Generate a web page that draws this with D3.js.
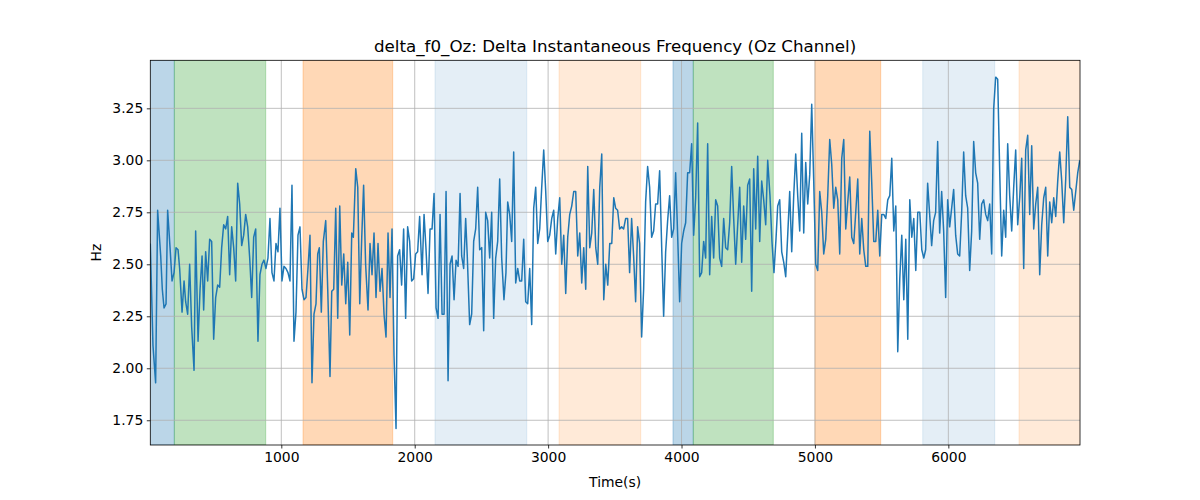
<!DOCTYPE html>
<html><head><meta charset="utf-8">
<script src="https://cdn.jsdelivr.net/npm/d3@7"></script>
<style>body{margin:0;background:#fff}svg{display:block}text{font-family:"DejaVu Sans",sans-serif}</style>
</head><body><svg id="c" width="1200" height="500"></svg>
<script>
const times = [18,38,58,73,96,108,121,136,148,166,181,196,211,226,238,256,271,283,298,313,328,346,358,376,391,406,418,433,448,463,478,493,508,523,538,553,568,583,598,613,628,643,658,673,688,703,718,733,748,763,778,793,808,825,840,855,870,885,900,915,930,945,960,975,990,1005,1020,1035,1050,1065,1080,1095,1110,1125,1140,1155,1170,
1185,1200,1215,1230,1245,1260,1273,1285,1300,1315,1333,1348,1365,1378,1393,1408,1423,1438,1453,1468,1483,1498,1513,1528,1540,1558,1573,1588,1603,1617,1632,1650,1665,1680,1695,1710,1725,1740,1755,1770,1785,1800,1815,1830,1845,1860,1872,1887,1902,1917,1932,1947,1962,1977,1992,2007,2022,2037,2055,2070,2085,2100,2115,2130,2145,2160,2175,2190,2205,2220,2235,2250,2265,2280,2295,2310,2325,2340,
2352,2367,2382,2394,2412,2427,2442,2457,2472,2487,2502,2517,2532,2547,2562,2577,2592,2607,2622,2637,2652,2669,2684,2697,2712,2727,2742,2757,2772,2787,2802,2817,2832,2847,2862,2877,2892,2907,2922,2937,2952,2967,2982,2997,3012,3027,3042,3057,3072,3087,3102,3117,3132,3147,3162,3177,3192,3207,3222,3237,3252,3267,3282,3297,3312,3327,3342,3357,3372,3387,3402,3417,3432,3447,3462,3477,3492,
3506,3521,3536,3551,3566,3581,3596,3611,3626,3641,3656,3671,3686,3701,3716,3731,3746,3761,3776,3791,3806,3821,3836,3851,3866,3881,3896,3911,3926,3941,3956,3971,3986,4001,4016,4031,4046,4061,4076,4091,4106,4121,4136,4151,4166,4181,4196,4211,4226,4241,4256,4271,4286,4301,4316,4331,4346,4361,4376,4391,4406,4421,4436,4451,4466,4481,4496,4511,4526,4541,4556,4571,4586,4601,4616,4631,4646,4663,
4678,4693,4708,4721,4736,4751,4766,4781,4796,4811,4826,4841,4856,4871,4886,4901,4916,4931,4946,4961,4976,4991,5006,5021,5036,5051,5066,5081,5096,5111,5126,5141,5156,5171,5186,5201,5216,5231,5246,5261,5276,5291,5306,5321,5336,5351,5366,5381,5396,5411,5426,5441,5456,5471,5486,5501,5516,5531,5546,5561,5576,5591,5606,5621,5636,5651,5666,5681,5696,5711,5726,5741,5756,5771,5786,5801,5816,
5830,5845,5860,5875,5890,5905,5920,5935,5950,5965,5980,5995,6010,6025,6040,6055,6070,6085,6100,6115,6130,6145,6160,6175,6190,6205,6220,6235,6250,6265,6280,6295,6310,6325,6340,6355,6370,6385,6400,6415,6430,6445,6460,6475,6490,6505,6520,6535,6550,6565,6580,6595,6610,6625,6640,6655,6670,6685,6700,6715,6730,6745,6760,6775,6790,6805,6820,6835,6850,6865,6880,6895,6910,6925,6940,6955,6970,6985];
const values = [2.60,2.11,1.93,2.76,2.54,2.38,2.29,2.31,2.76,2.58,2.42,2.46,2.58,2.57,2.48,2.27,2.42,2.32,2.26,2.50,2.20,1.99,2.66,2.13,2.38,2.54,2.28,2.56,2.42,2.62,2.61,2.14,2.34,2.40,2.39,2.58,2.69,2.67,2.73,2.45,2.68,2.58,2.42,2.89,2.79,2.59,2.64,2.74,2.68,2.53,2.34,2.63,2.67,2.13,2.45,2.50,2.52,2.48,2.53,2.72,2.46,2.42,2.60,2.56,2.77,2.42,2.49,2.48,2.46,2.42,2.88,2.13,2.27,2.64,2.68,2.38,2.33,
2.34,2.48,2.64,1.93,2.26,2.31,2.55,2.58,2.27,2.61,2.71,2.38,1.96,2.37,2.38,2.77,2.24,2.78,2.40,2.55,2.31,2.51,2.16,2.65,2.63,2.96,2.87,2.31,2.63,2.88,2.50,2.28,2.60,2.45,2.65,2.34,2.60,2.37,2.48,2.26,2.15,2.65,2.34,2.67,2.06,1.71,2.54,2.57,2.40,2.67,2.24,2.68,2.61,2.42,2.43,2.55,2.56,2.73,2.45,2.74,2.57,2.36,2.67,2.67,2.84,2.29,2.24,2.74,2.26,2.26,2.85,1.94,2.50,2.54,2.33,2.52,2.49,2.84,
2.54,2.48,2.72,2.54,2.21,2.26,2.61,2.67,2.87,2.57,2.58,2.18,2.75,2.71,2.53,2.75,2.24,2.53,2.61,2.91,2.53,2.33,2.46,2.80,2.74,2.61,3.04,2.41,2.48,2.42,2.42,2.62,2.32,2.31,2.48,2.21,2.77,2.87,2.60,2.67,2.87,3.05,2.85,2.61,2.64,2.72,2.76,2.55,2.72,2.82,2.50,2.64,2.36,2.63,2.74,2.78,2.85,2.85,2.54,2.65,2.41,2.58,2.38,2.97,2.58,2.65,2.86,2.58,2.50,2.87,3.03,2.33,2.50,2.40,2.60,2.60,2.82,
2.77,2.76,2.67,2.68,2.67,2.72,2.72,2.46,2.72,2.54,2.32,2.68,2.60,2.15,2.38,2.80,2.97,2.87,2.63,2.66,2.79,2.79,2.95,2.59,2.25,2.56,2.71,2.83,2.63,2.67,2.94,2.64,2.32,2.60,2.66,2.70,2.94,2.94,3.08,2.64,2.82,3.18,2.44,2.46,2.61,2.53,3.08,2.45,2.73,2.53,2.81,2.78,2.53,2.49,2.72,2.58,2.57,2.70,2.97,2.72,2.50,2.69,2.87,2.51,2.78,2.62,2.88,2.91,2.37,2.96,2.67,3.02,2.61,2.90,2.81,2.69,3.00,2.83,
2.61,2.46,2.62,2.78,2.81,2.56,2.51,2.44,2.64,2.85,2.56,2.83,3.03,2.83,2.66,3.13,2.65,2.99,2.79,2.93,3.27,2.90,2.50,2.47,2.85,2.75,2.55,2.62,2.83,3.10,2.98,2.77,2.87,2.81,2.55,3.01,3.10,2.67,2.80,2.92,2.63,2.60,2.75,2.91,2.55,2.72,2.57,2.49,2.49,3.14,2.89,2.61,2.61,2.76,2.54,2.74,2.74,2.72,2.81,2.83,3.01,2.66,2.78,2.08,2.43,2.64,2.33,2.62,2.14,2.81,2.63,2.72,2.47,2.75,2.75,2.57,2.53,
2.57,2.89,2.74,2.59,2.71,2.75,3.09,2.65,2.85,2.66,2.34,2.81,2.68,2.77,2.86,2.64,2.55,2.54,2.75,3.04,2.83,2.77,2.47,2.66,3.09,2.94,2.89,2.62,2.79,2.81,2.74,2.71,2.79,2.55,3.25,3.40,3.39,2.95,2.54,2.76,2.63,3.08,2.83,2.66,2.87,3.05,2.69,2.82,3.01,2.48,3.05,3.12,2.74,3.07,2.67,2.79,2.87,2.45,2.69,2.82,2.87,2.54,2.80,2.70,2.82,2.73,2.90,3.04,2.90,2.70,2.91,3.21,2.87,2.86,2.76,2.85,2.94,3.00];

const spanStarts = [0,198,1163,2152,3082,3936,4088,5001,5808,6530];
const spanEnds   = [198,883,1835,2840,3694,4088,4688,5493,6348,7100];
const spanColors = ["#1f77b4","#2ca02c","#ff7f0e","#1f77b4","#ff7f0e","#1f77b4","#2ca02c","#ff7f0e","#1f77b4","#ff7f0e"];
const spanAlphas = [0.3,0.3,0.3,0.12,0.16,0.3,0.3,0.3,0.12,0.16];
const xTicks = [1000,2000,3000,4000,5000,6000];
const yTicks = [1.75,2.00,2.25,2.50,2.75,3.00,3.25];
const titleText = "delta_f0_Oz: Delta Instantaneous Frequency (Oz Channel)";

const L=150.3,R=1080,T=60.3,B=445;
const svg=d3.select("#c");
const x=d3.scaleLinear().domain([18,6987]).range([L,R]);
const y=d3.scaleLinear().domain([1.631,3.481]).range([B,T]);
svg.append("defs").append("clipPath").attr("id","clip").append("rect").attr("x",L).attr("y",T).attr("width",R-L).attr("height",B-T);
const plot=svg.append("g").attr("clip-path","url(#clip)");
plot.selectAll("rect.span").data(spanStarts).enter().append("rect")
  .attr("x",(d)=>x(d)).attr("width",(d,i)=>x(spanEnds[i])-x(d))
  .attr("y",T).attr("height",B-T)
  .attr("fill",(d,i)=>spanColors[i]).attr("fill-opacity",(d,i)=>spanAlphas[i])
  .attr("stroke",(d,i)=>spanColors[i]).attr("stroke-opacity",(d,i)=>spanAlphas[i]).attr("stroke-width",1);
// grid
plot.selectAll("line.gx").data(xTicks).enter().append("line")
  .attr("x1",d=>x(d)).attr("x2",d=>x(d)).attr("y1",T).attr("y2",B).attr("stroke","#b0b0b0").attr("stroke-width",0.8);
plot.selectAll("line.gy").data(yTicks).enter().append("line")
  .attr("y1",d=>y(d)).attr("y2",d=>y(d)).attr("x1",L).attr("x2",R).attr("stroke","#b0b0b0").attr("stroke-width",0.8);
const pts=times.map((t,i)=>[t,values[i]]);
plot.append("path").datum(pts).attr("fill","none").attr("stroke","#1f77b4").attr("stroke-width",1.5).attr("stroke-linejoin","round")
  .attr("d",d3.line().x(d=>x(d[0])).y(d=>y(d[1])));
// axes
const xa=svg.append("g").attr("transform",`translate(0,${B})`).call(d3.axisBottom(x).tickValues(xTicks).tickFormat(d3.format("d")).tickSize(3.5).tickPadding(3.5));
const ya=svg.append("g").attr("transform",`translate(${L},0)`).call(d3.axisLeft(y).tickValues(yTicks).tickFormat(d3.format(".2f")).tickSize(3.5).tickPadding(3.5));
[xa,ya].forEach(a=>{a.select(".domain").remove();a.selectAll("text").attr("font-size","13.9px").attr("fill","#000").style("font-family","DejaVu Sans");a.selectAll("line").attr("stroke","#000").attr("stroke-width",0.8);});
svg.append("rect").attr("x",L).attr("y",T).attr("width",R-L).attr("height",B-T).attr("fill","none").attr("stroke","#000").attr("stroke-width",0.8);
svg.append("text").attr("x",(L+R)/2).attr("y",T-8).attr("text-anchor","middle").attr("font-size","16.7px").text(titleText);
svg.append("text").attr("x",(L+R)/2).attr("y",487).attr("text-anchor","middle").attr("font-size","13.9px").text("Time(s)");
svg.append("text").attr("transform",`translate(101,${(T+B)/2}) rotate(-90)`).attr("text-anchor","middle").attr("font-size","13.9px").text("Hz");
</script></body></html>
